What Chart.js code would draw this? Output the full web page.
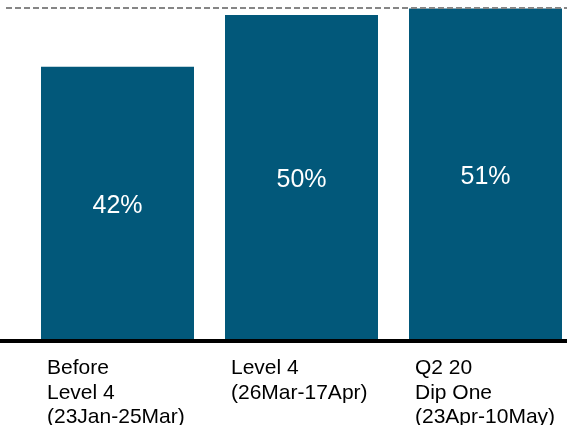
<!DOCTYPE html>
<html>
<head>
<meta charset="utf-8">
<script src="https://cdn.jsdelivr.net/npm/chart.js@4/dist/chart.umd.min.js"></script>
<style>
  html, body { margin: 0; padding: 0; background: #fff; overflow: hidden; }
  #wrap { position: absolute; left: 0; top: 0; width: 578px; height: 425px; }
</style>
</head>
<body>
<div id="wrap"><canvas id="chart"></canvas></div>
<script>
/* share of respondents per period, with the peak marked by a dashed line */
const periods = [
  ["Before", "Level 4", "(23Jan-25Mar)"],
  ["Level 4", "(26Mar-17Apr)"],
  ["Q2 20", "Dip One", "(23Apr-10May)"],
];
const shares = [42, 50, 51];
const peakLine = 51;

const BAR = "#02587a";
const FONT = "'Liberation Sans', Arial, sans-serif";

// baseline (black) + dashed peak line drawn across the whole page width
const refLines = {
  id: "refLines",
  afterDatasetsDraw(chart) {
    const { ctx, scales } = chart;
    const y0 = scales.y.getPixelForValue(0);
    const yPeak = Math.round(scales.y.getPixelForValue(peakLine));
    ctx.save();
    ctx.strokeStyle = "#000";
    ctx.lineWidth = 4;
    ctx.beginPath();
    ctx.moveTo(0, y0 + 2);
    ctx.lineTo(567, y0 + 2);
    ctx.stroke();

    ctx.strokeStyle = "#868686";
    ctx.lineWidth = 2;
    ctx.setLineDash([6, 3]);
    ctx.beginPath();
    ctx.moveTo(6, yPeak);
    ctx.lineTo(567, yPeak);
    ctx.stroke();
    ctx.restore();
  },
};

// white % labels in the middle of each bar
const valueLabels = {
  id: "valueLabels",
  afterDatasetsDraw(chart) {
    const { ctx } = chart;
    const meta = chart.getDatasetMeta(0);
    ctx.save();
    ctx.fillStyle = "#fff";
    ctx.font = "25px " + FONT;
    ctx.textAlign = "center";
    ctx.textBaseline = "middle";
    meta.data.forEach((bar, i) => {
      ctx.fillText(shares[i] + "%", bar.x, (bar.y + bar.base) / 2 + 3);
    });
    ctx.restore();
  },
};

new Chart(document.getElementById("chart"), {
  type: "bar",
  data: {
    labels: periods,
    datasets: [{
      data: shares,
      backgroundColor: BAR,
      borderWidth: 0,
      barPercentage: 0.8315,
      categoryPercentage: 1,
    }],
  },
  options: {
    responsive: true,
    maintainAspectRatio: false,
    animation: false,
    layout: { padding: { left: 25.5, right: 0.5, top: 2, bottom: 0 } },
    plugins: { legend: { display: false }, tooltip: { enabled: false } },
    scales: {
      x: {
        grid: { display: false, drawTicks: false },
        border: { display: false },
        afterFit: (s) => {
          s.height = 86;
          // labels are shifted left onto the bars, so no extra side room
          s.paddingLeft = 0;
          s.paddingRight = 0;
        },
        ticks: {
          color: "#000",
          font: { family: FONT, size: 21, lineHeight: 1.17 },
          align: "start",
          labelOffset: -70.5,
          padding: 17,
          maxRotation: 0,
          autoSkip: false,
        },
      },
      y: { display: false, min: 0, max: 52 },
    },
  },
  plugins: [refLines, valueLabels],
});
</script>
</body>
</html>
